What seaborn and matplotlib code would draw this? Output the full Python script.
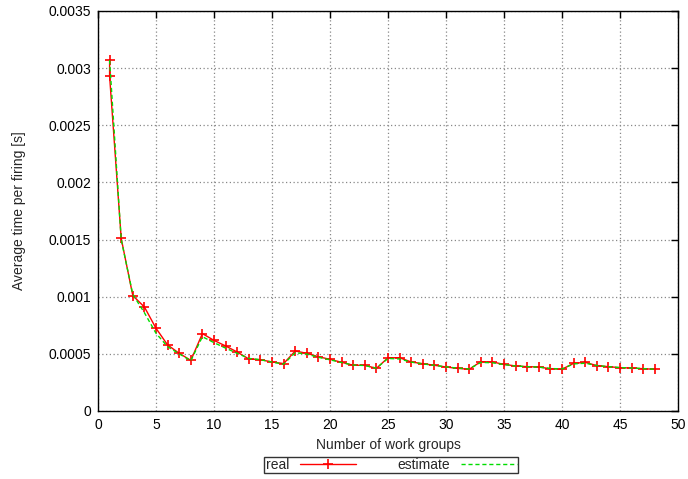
import matplotlib
matplotlib.use("Agg")
import matplotlib.pyplot as plt
import seaborn as sns
import pandas as pd

# ---- data ----
real_x = [1, 1] + list(range(2, 49))
real_y = [0.00307, 0.00293, 0.00151, 0.00101, 0.00091, 0.000724, 0.000578, 0.000505, 0.000443,
          0.000677, 0.000618, 0.000569, 0.000516, 0.000455, 0.000449, 0.000429, 0.000415,
          0.000525, 0.000505, 0.000475, 0.000452, 0.000426, 0.000400, 0.000400, 0.000373,
          0.000466, 0.000466, 0.000429, 0.000414, 0.000400, 0.000385, 0.000373, 0.000365,
          0.000432, 0.000429, 0.000408, 0.000394, 0.000388, 0.000385, 0.000370, 0.000365,
          0.000417, 0.000426, 0.000397, 0.000388, 0.000379, 0.000376, 0.000370, 0.000365]
est_x = list(range(1, 49))
est_y = [0.00307, 0.00150, 0.00102, 0.00086, 0.00068, 0.000563, 0.000500, 0.000440,
         0.000650, 0.000598, 0.000550, 0.000505, 0.000460, 0.000449, 0.000428, 0.000410,
         0.000510, 0.000498, 0.000470, 0.000448, 0.000424, 0.000402, 0.000398, 0.000375,
         0.000460, 0.000455, 0.000428, 0.000412, 0.000400, 0.000386, 0.000375, 0.000368,
         0.000425, 0.000422, 0.000406, 0.000394, 0.000388, 0.000384, 0.000372, 0.000368,
         0.000412, 0.000418, 0.000398, 0.000388, 0.000380, 0.000376, 0.000371, 0.000366]
x_ticks = list(range(0, 51, 5))
y_ticks = [0, 0.0005, 0.001, 0.0015, 0.002, 0.0025, 0.003, 0.0035]
y_tick_labels = ["0", "0.0005", "0.001", "0.0015", "0.002", "0.0025", "0.003", "0.0035"]

df_real = pd.DataFrame({"x": real_x, "y": real_y})
df_est = pd.DataFrame({"x": est_x, "y": est_y})

sns.set_style("white")
plt.rcParams['font.family'] = ['Liberation Sans', 'DejaVu Sans']
plt.rcParams['font.size'] = 10

fig = plt.figure(figsize=(6.88, 4.79), dpi=100)
ax = fig.add_axes([98/688, 1 - 411/479, 580/688, 400/479])

sns.lineplot(data=df_real, x="x", y="y", ax=ax, color="#ff0000", linewidth=1,
             marker="+", markersize=6.5, markeredgewidth=1.2, markeredgecolor="#ff0000",
             estimator=None, sort=False, label="real", zorder=3)
sns.lineplot(data=df_est, x="x", y="y", ax=ax, color="#00dd00", linewidth=1,
             linestyle=(0, (3, 2)), estimator=None, sort=False, label="estimate", zorder=4)

ax.set_xlim(0, 50)
ax.set_ylim(0, 0.0035)
ax.set_xticks(x_ticks)
ax.set_yticks(y_ticks)
ax.set_yticklabels(y_tick_labels)
ax.grid(True, color="#888888", linestyle=(0, (1, 2)), linewidth=0.9)
ax.tick_params(direction="in", top=True, right=True, length=5, width=1, labelsize=10,
               colors="black", pad=5)
for s in ax.spines.values():
    s.set_visible(True)
    s.set_color("black")
    s.set_linewidth(1)
ax.set_xlabel("Number of work groups", fontsize=10, labelpad=4)
ax.set_ylabel("Average time per firing [s]", fontsize=10, labelpad=16)

leg = ax.legend(loc="center", bbox_to_anchor=(391/688, 1 - 465/479),
                bbox_transform=fig.transFigure, ncol=2, frameon=True,
                fancybox=False, edgecolor="black", markerfirst=False, fontsize=10,
                handlelength=4, columnspacing=3.0, borderpad=0.1, handletextpad=0.8)
leg.get_frame().set_linewidth(1)

fig.savefig("out.png", dpi=100)
